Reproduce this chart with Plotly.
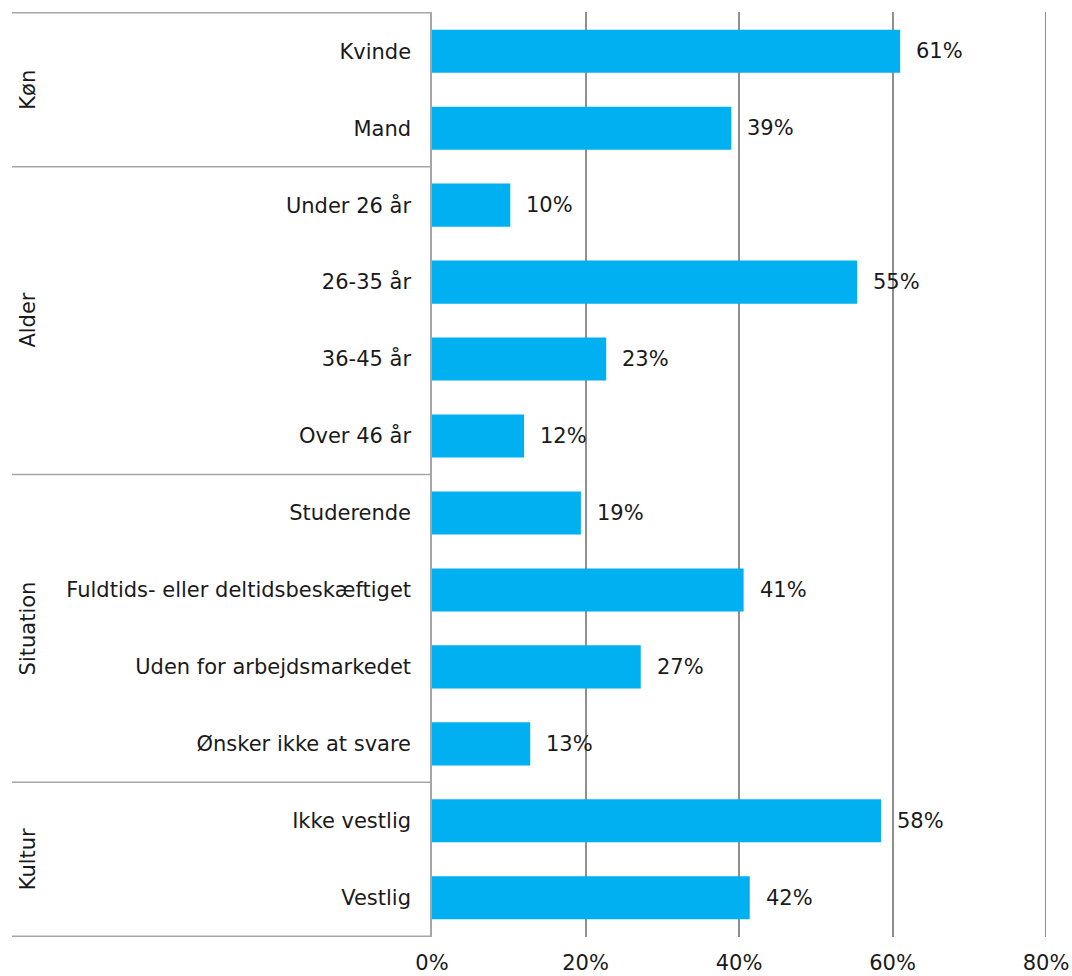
import plotly.graph_objects as go

# data, top to bottom
groups = ["Køn", "Alder", "Situation", "Kultur"]
group_sizes = [2, 4, 4, 2]
categories = [
    "Kvinde", "Mand",
    "Under 26 år", "26-35 år", "36-45 år", "Over 46 år",
    "Studerende", "Fuldtids- eller deltidsbeskæftiget", "Uden for arbejdsmarkedet", "Ønsker ikke at svare",
    "Ikke vestlig", "Vestlig",
]
values = [61, 39, 10.2, 55.4, 22.7, 12, 19.4, 40.6, 27.2, 12.8, 58.5, 41.4]
labels = ["61%", "39%", "10%", "55%", "23%", "12%", "19%", "41%", "27%", "13%", "58%", "42%"]
x_ticks = [0, 20, 40, 60, 80]
x_ticktext = ["0%", "20%", "40%", "60%", "80%"]

FONT = "DejaVu Sans"
FS = 21
BAR = "#00B0F0"
LINE = "#a6a6a6"
GRID = "#8f8f8f"
TXT = "#1a1a1a"

W, H = 1072, 976
L, R, T, B = 432, 26, 12, 39
plot_w = W - L - R

fig = go.Figure(go.Bar(
    x=values, y=categories, orientation="h",
    marker=dict(color=BAR, line=dict(width=0)),
    width=0.56,
    hoverinfo="skip",
))

for cat, v, lab in zip(categories, values, labels):
    fig.add_annotation(x=v, y=cat, text=lab, showarrow=False,
                       xanchor="left", xshift=14,
                       font=dict(family=FONT, size=FS, color=TXT))

# group separators and rotated group labels
x_left = -(L - 12) / plot_w
x_lab = -(L - 28) / plot_w
start = -0.5
fig.add_shape(type="line", xref="paper", yref="y", x0=x_left, x1=0,
              y0=start, y1=start, line=dict(color=LINE, width=1.5))
for g, n in zip(groups, group_sizes):
    end = start + n
    fig.add_shape(type="line", xref="paper", yref="y", x0=x_left, x1=0,
                  y0=end, y1=end, line=dict(color=LINE, width=1.5))
    fig.add_annotation(xref="paper", yref="y", x=x_lab, y=(start + end) / 2,
                       text=g, textangle=-90, showarrow=False,
                       xanchor="center", yanchor="middle",
                       font=dict(family=FONT, size=FS, color=TXT))
    start = end

# plotly drops the gridline sitting on the right edge; draw it explicitly
fig.add_shape(type="line", xref="x", yref="paper", x0=x_ticks[-1], x1=x_ticks[-1],
              y0=0, y1=1, line=dict(color=GRID, width=2))

fig.update_layout(
    width=W, height=H,
    margin=dict(l=L, r=R, t=T, b=B),
    plot_bgcolor="white", paper_bgcolor="white",
    font=dict(family=FONT, size=FS, color=TXT),
    showlegend=False,
)
fig.update_xaxes(range=[0, 80], tickvals=x_ticks, ticktext=x_ticktext,
                 showgrid=True, gridcolor=GRID, gridwidth=1.5,
                 zeroline=False, showline=False, ticks="",
                 ticklabelstandoff=11, ticklabeloverflow="allow",
                 automargin=False, fixedrange=True)
fig.update_yaxes(autorange="reversed", showgrid=False, zeroline=False,
                 showline=True, linecolor=LINE, linewidth=1.5,
                 ticks="", ticklabelstandoff=15, automargin=False,
                 fixedrange=True)

fig.write_html("out.html", config={"displayModeBar": False},
               post_script="document.body.style.margin='0';")
